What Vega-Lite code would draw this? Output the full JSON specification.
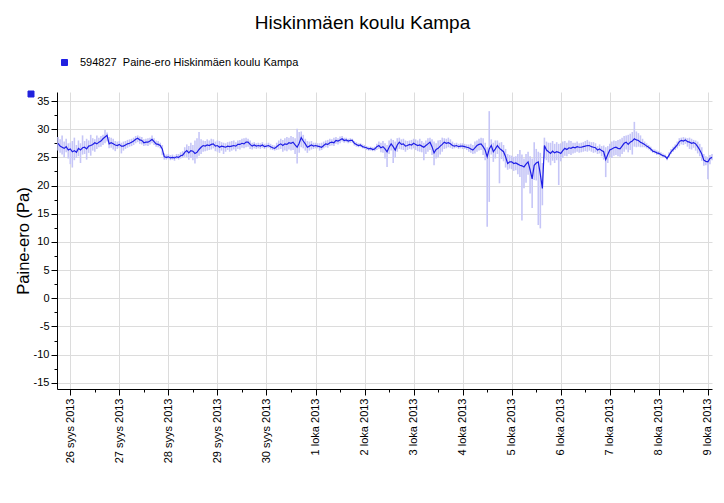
{
"$schema": "https://vega.github.io/schema/vega-lite/v6.json",
"width": 655, "height": 297,
"autosize": {"type": "none"},
"padding": {"left": 57, "top": 92, "right": 12, "bottom": 114},
"background": "white",
"title": {"text": "Hiskinmäen koulu Kampa", "fontSize": 19, "font": "Liberation Sans", "fontWeight": "normal", "anchor": "middle", "frame": "group", "dx": -22, "offset": 24, "color": "black"},
"config": {"font": "Liberation Sans", "view": {"stroke": null}, "axis": {"domainColor": "black", "tickColor": "black", "labelColor": "black", "gridColor": "#dcdcdc", "labelFontSize": 11, "labelFont": "Liberation Sans", "labelOverlap": false}},
"data": {"values": [
{"t":"2013-09-25T18:00Z","v":27.5,"lo":26.2,"hi":28.6},
{"t":"2013-09-25T19:00Z","v":27.0,"lo":25.8,"hi":28.2},
{"t":"2013-09-25T20:00Z","v":26.8,"lo":25.5,"hi":28.9},
{"t":"2013-09-25T21:00Z","v":26.6,"lo":25.0,"hi":27.8},
{"t":"2013-09-25T22:00Z","v":26.9,"lo":25.9,"hi":28.3},
{"t":"2013-09-25T23:00Z","v":26.3,"lo":24.8,"hi":27.5},
{"t":"2013-09-26T00:00Z","v":26.5,"lo":23.8,"hi":27.6},
{"t":"2013-09-26T01:00Z","v":26.0,"lo":23.2,"hi":27.9},
{"t":"2013-09-26T02:00Z","v":26.2,"lo":24.5,"hi":28.5},
{"t":"2013-09-26T03:00Z","v":25.9,"lo":24.9,"hi":27.2},
{"t":"2013-09-26T04:00Z","v":26.6,"lo":25.2,"hi":28.0},
{"t":"2013-09-26T05:00Z","v":26.3,"lo":24.0,"hi":27.5},
{"t":"2013-09-26T06:00Z","v":26.7,"lo":25.5,"hi":28.9},
{"t":"2013-09-26T07:00Z","v":26.8,"lo":25.6,"hi":27.9},
{"t":"2013-09-26T08:00Z","v":26.5,"lo":24.6,"hi":28.3},
{"t":"2013-09-26T09:00Z","v":27.0,"lo":25.8,"hi":28.0},
{"t":"2013-09-26T10:00Z","v":27.1,"lo":25.3,"hi":29.0},
{"t":"2013-09-26T11:00Z","v":27.3,"lo":26.2,"hi":28.4},
{"t":"2013-09-26T12:00Z","v":27.6,"lo":26.0,"hi":28.2},
{"t":"2013-09-26T13:00Z","v":27.4,"lo":26.5,"hi":28.9},
{"t":"2013-09-26T14:00Z","v":27.7,"lo":26.8,"hi":28.5},
{"t":"2013-09-26T15:00Z","v":27.9,"lo":26.9,"hi":28.8},
{"t":"2013-09-26T16:00Z","v":28.3,"lo":27.2,"hi":29.0},
{"t":"2013-09-26T17:00Z","v":28.6,"lo":27.5,"hi":29.9},
{"t":"2013-09-26T18:00Z","v":28.9,"lo":27.8,"hi":29.4},
{"t":"2013-09-26T19:00Z","v":27.4,"lo":26.6,"hi":28.6},
{"t":"2013-09-26T20:00Z","v":27.6,"lo":26.7,"hi":28.5},
{"t":"2013-09-26T21:00Z","v":27.4,"lo":26.4,"hi":28.3},
{"t":"2013-09-26T22:00Z","v":27.2,"lo":26.1,"hi":27.9},
{"t":"2013-09-26T23:00Z","v":27.1,"lo":26.5,"hi":27.8},
{"t":"2013-09-27T00:00Z","v":27.3,"lo":26.7,"hi":27.9},
{"t":"2013-09-27T01:00Z","v":27.0,"lo":25.7,"hi":27.6},
{"t":"2013-09-27T02:00Z","v":27.0,"lo":26.2,"hi":27.8},
{"t":"2013-09-27T03:00Z","v":27.2,"lo":26.5,"hi":27.9},
{"t":"2013-09-27T04:00Z","v":27.4,"lo":26.7,"hi":28.1},
{"t":"2013-09-27T05:00Z","v":27.5,"lo":26.9,"hi":28.2},
{"t":"2013-09-27T06:00Z","v":27.7,"lo":27.0,"hi":28.3},
{"t":"2013-09-27T07:00Z","v":27.9,"lo":27.2,"hi":28.5},
{"t":"2013-09-27T08:00Z","v":28.2,"lo":27.5,"hi":28.8},
{"t":"2013-09-27T09:00Z","v":28.4,"lo":27.7,"hi":28.9},
{"t":"2013-09-27T10:00Z","v":28.1,"lo":27.4,"hi":28.7},
{"t":"2013-09-27T11:00Z","v":28.0,"lo":27.3,"hi":28.6},
{"t":"2013-09-27T12:00Z","v":27.6,"lo":27.0,"hi":28.2},
{"t":"2013-09-27T13:00Z","v":27.7,"lo":27.1,"hi":28.3},
{"t":"2013-09-27T14:00Z","v":27.7,"lo":27.0,"hi":28.4},
{"t":"2013-09-27T15:00Z","v":27.9,"lo":27.3,"hi":28.5},
{"t":"2013-09-27T16:00Z","v":28.2,"lo":27.5,"hi":28.9},
{"t":"2013-09-27T17:00Z","v":27.8,"lo":27.2,"hi":28.4},
{"t":"2013-09-27T18:00Z","v":27.4,"lo":26.9,"hi":28.0},
{"t":"2013-09-27T19:00Z","v":27.3,"lo":26.8,"hi":27.9},
{"t":"2013-09-27T20:00Z","v":27.1,"lo":26.6,"hi":27.6},
{"t":"2013-09-27T21:00Z","v":26.5,"lo":25.4,"hi":27.2},
{"t":"2013-09-27T22:00Z","v":25.1,"lo":24.6,"hi":25.7},
{"t":"2013-09-27T23:00Z","v":25.0,"lo":24.6,"hi":25.5},
{"t":"2013-09-28T00:00Z","v":25.1,"lo":24.7,"hi":25.6},
{"t":"2013-09-28T01:00Z","v":24.9,"lo":24.5,"hi":25.4},
{"t":"2013-09-28T02:00Z","v":25.0,"lo":24.6,"hi":25.5},
{"t":"2013-09-28T03:00Z","v":24.9,"lo":24.4,"hi":25.3},
{"t":"2013-09-28T04:00Z","v":25.1,"lo":24.7,"hi":25.6},
{"t":"2013-09-28T05:00Z","v":25.0,"lo":24.6,"hi":25.6},
{"t":"2013-09-28T06:00Z","v":25.3,"lo":24.8,"hi":25.9},
{"t":"2013-09-28T07:00Z","v":25.4,"lo":24.9,"hi":26.1},
{"t":"2013-09-28T08:00Z","v":25.9,"lo":25.1,"hi":26.8},
{"t":"2013-09-28T09:00Z","v":26.2,"lo":25.0,"hi":27.3},
{"t":"2013-09-28T10:00Z","v":25.8,"lo":24.6,"hi":27.0},
{"t":"2013-09-28T11:00Z","v":26.2,"lo":24.9,"hi":27.6},
{"t":"2013-09-28T12:00Z","v":26.1,"lo":24.5,"hi":27.2},
{"t":"2013-09-28T13:00Z","v":25.7,"lo":23.9,"hi":28.0},
{"t":"2013-09-28T14:00Z","v":25.9,"lo":24.8,"hi":28.4},
{"t":"2013-09-28T15:00Z","v":26.4,"lo":25.3,"hi":29.5},
{"t":"2013-09-28T16:00Z","v":26.8,"lo":25.6,"hi":28.2},
{"t":"2013-09-28T17:00Z","v":27.1,"lo":26.0,"hi":28.0},
{"t":"2013-09-28T18:00Z","v":27.0,"lo":26.1,"hi":27.9},
{"t":"2013-09-28T19:00Z","v":27.2,"lo":26.2,"hi":28.2},
{"t":"2013-09-28T20:00Z","v":27.1,"lo":26.3,"hi":28.0},
{"t":"2013-09-28T21:00Z","v":27.3,"lo":26.4,"hi":28.3},
{"t":"2013-09-28T22:00Z","v":27.4,"lo":26.6,"hi":28.2},
{"t":"2013-09-28T23:00Z","v":27.0,"lo":26.1,"hi":27.8},
{"t":"2013-09-29T00:00Z","v":27.1,"lo":26.0,"hi":28.0},
{"t":"2013-09-29T01:00Z","v":26.8,"lo":25.8,"hi":27.9},
{"t":"2013-09-29T02:00Z","v":27.0,"lo":26.2,"hi":27.7},
{"t":"2013-09-29T03:00Z","v":26.9,"lo":25.6,"hi":27.6},
{"t":"2013-09-29T04:00Z","v":26.8,"lo":26.0,"hi":27.5},
{"t":"2013-09-29T05:00Z","v":27.0,"lo":26.3,"hi":27.7},
{"t":"2013-09-29T06:00Z","v":26.9,"lo":26.0,"hi":27.8},
{"t":"2013-09-29T07:00Z","v":27.0,"lo":26.2,"hi":27.9},
{"t":"2013-09-29T08:00Z","v":27.1,"lo":26.4,"hi":28.0},
{"t":"2013-09-29T09:00Z","v":27.0,"lo":26.1,"hi":27.7},
{"t":"2013-09-29T10:00Z","v":27.3,"lo":26.5,"hi":28.0},
{"t":"2013-09-29T11:00Z","v":27.3,"lo":26.4,"hi":28.1},
{"t":"2013-09-29T12:00Z","v":27.5,"lo":26.7,"hi":28.3},
{"t":"2013-09-29T13:00Z","v":27.4,"lo":26.6,"hi":28.4},
{"t":"2013-09-29T14:00Z","v":27.7,"lo":26.8,"hi":28.5},
{"t":"2013-09-29T15:00Z","v":27.7,"lo":26.9,"hi":28.3},
{"t":"2013-09-29T16:00Z","v":27.3,"lo":26.5,"hi":28.0},
{"t":"2013-09-29T17:00Z","v":27.0,"lo":26.4,"hi":27.6},
{"t":"2013-09-29T18:00Z","v":27.2,"lo":26.6,"hi":27.7},
{"t":"2013-09-29T19:00Z","v":27.0,"lo":26.5,"hi":27.5},
{"t":"2013-09-29T20:00Z","v":27.1,"lo":26.6,"hi":27.6},
{"t":"2013-09-29T21:00Z","v":27.0,"lo":26.5,"hi":27.5},
{"t":"2013-09-29T22:00Z","v":27.2,"lo":26.7,"hi":27.7},
{"t":"2013-09-29T23:00Z","v":26.9,"lo":26.5,"hi":27.4},
{"t":"2013-09-30T00:00Z","v":27.0,"lo":26.6,"hi":27.5},
{"t":"2013-09-30T01:00Z","v":27.1,"lo":26.7,"hi":27.6},
{"t":"2013-09-30T02:00Z","v":26.9,"lo":26.4,"hi":27.4},
{"t":"2013-09-30T03:00Z","v":26.7,"lo":26.3,"hi":27.2},
{"t":"2013-09-30T04:00Z","v":26.6,"lo":26.2,"hi":27.1},
{"t":"2013-09-30T05:00Z","v":26.9,"lo":26.3,"hi":27.6},
{"t":"2013-09-30T06:00Z","v":27.2,"lo":26.4,"hi":28.0},
{"t":"2013-09-30T07:00Z","v":27.4,"lo":26.5,"hi":28.3},
{"t":"2013-09-30T08:00Z","v":27.1,"lo":26.0,"hi":28.1},
{"t":"2013-09-30T09:00Z","v":27.4,"lo":26.2,"hi":28.4},
{"t":"2013-09-30T10:00Z","v":27.3,"lo":26.1,"hi":28.6},
{"t":"2013-09-30T11:00Z","v":27.6,"lo":26.4,"hi":28.5},
{"t":"2013-09-30T12:00Z","v":27.5,"lo":26.2,"hi":28.8},
{"t":"2013-09-30T13:00Z","v":27.7,"lo":26.3,"hi":28.6},
{"t":"2013-09-30T14:00Z","v":27.2,"lo":25.6,"hi":28.4},
{"t":"2013-09-30T15:00Z","v":26.8,"lo":23.9,"hi":30.1},
{"t":"2013-09-30T16:00Z","v":27.5,"lo":25.8,"hi":29.5},
{"t":"2013-09-30T17:00Z","v":28.5,"lo":26.8,"hi":29.6},
{"t":"2013-09-30T18:00Z","v":27.9,"lo":26.6,"hi":29.0},
{"t":"2013-09-30T19:00Z","v":27.4,"lo":26.2,"hi":28.3},
{"t":"2013-09-30T20:00Z","v":26.8,"lo":25.8,"hi":27.9},
{"t":"2013-09-30T21:00Z","v":27.0,"lo":26.2,"hi":27.8},
{"t":"2013-09-30T22:00Z","v":27.2,"lo":26.4,"hi":27.9},
{"t":"2013-09-30T23:00Z","v":27.0,"lo":26.5,"hi":27.6},
{"t":"2013-10-01T00:00Z","v":27.1,"lo":26.6,"hi":27.6},
{"t":"2013-10-01T01:00Z","v":27.0,"lo":26.6,"hi":27.5},
{"t":"2013-10-01T02:00Z","v":26.9,"lo":26.2,"hi":27.5},
{"t":"2013-10-01T03:00Z","v":26.8,"lo":26.3,"hi":27.6},
{"t":"2013-10-01T04:00Z","v":27.1,"lo":26.6,"hi":27.8},
{"t":"2013-10-01T05:00Z","v":27.4,"lo":26.8,"hi":28.0},
{"t":"2013-10-01T06:00Z","v":27.3,"lo":26.7,"hi":28.1},
{"t":"2013-10-01T07:00Z","v":27.6,"lo":27.0,"hi":28.3},
{"t":"2013-10-01T08:00Z","v":27.7,"lo":27.1,"hi":28.2},
{"t":"2013-10-01T09:00Z","v":27.6,"lo":27.0,"hi":28.5},
{"t":"2013-10-01T10:00Z","v":28.0,"lo":27.4,"hi":28.6},
{"t":"2013-10-01T11:00Z","v":27.9,"lo":27.3,"hi":28.4},
{"t":"2013-10-01T12:00Z","v":28.1,"lo":27.5,"hi":28.7},
{"t":"2013-10-01T13:00Z","v":28.3,"lo":27.8,"hi":28.8},
{"t":"2013-10-01T14:00Z","v":28.0,"lo":27.6,"hi":28.5},
{"t":"2013-10-01T15:00Z","v":28.1,"lo":27.7,"hi":28.5},
{"t":"2013-10-01T16:00Z","v":27.9,"lo":27.5,"hi":28.3},
{"t":"2013-10-01T17:00Z","v":28.0,"lo":27.6,"hi":28.4},
{"t":"2013-10-01T18:00Z","v":28.0,"lo":27.6,"hi":28.3},
{"t":"2013-10-01T19:00Z","v":27.5,"lo":27.1,"hi":27.9},
{"t":"2013-10-01T20:00Z","v":27.3,"lo":26.9,"hi":27.7},
{"t":"2013-10-01T21:00Z","v":27.1,"lo":26.8,"hi":27.5},
{"t":"2013-10-01T22:00Z","v":27.2,"lo":26.8,"hi":27.5},
{"t":"2013-10-01T23:00Z","v":26.9,"lo":26.6,"hi":27.3},
{"t":"2013-10-02T00:00Z","v":26.8,"lo":26.5,"hi":27.2},
{"t":"2013-10-02T01:00Z","v":26.7,"lo":26.3,"hi":27.0},
{"t":"2013-10-02T02:00Z","v":26.5,"lo":26.2,"hi":26.9},
{"t":"2013-10-02T03:00Z","v":26.6,"lo":26.2,"hi":26.9},
{"t":"2013-10-02T04:00Z","v":26.4,"lo":26.1,"hi":26.8},
{"t":"2013-10-02T05:00Z","v":26.5,"lo":26.1,"hi":26.9},
{"t":"2013-10-02T06:00Z","v":26.9,"lo":26.3,"hi":27.4},
{"t":"2013-10-02T07:00Z","v":27.1,"lo":26.5,"hi":27.8},
{"t":"2013-10-02T08:00Z","v":26.7,"lo":25.9,"hi":27.6},
{"t":"2013-10-02T09:00Z","v":26.9,"lo":25.8,"hi":27.9},
{"t":"2013-10-02T10:00Z","v":26.5,"lo":24.8,"hi":27.5},
{"t":"2013-10-02T11:00Z","v":26.0,"lo":23.3,"hi":27.2},
{"t":"2013-10-02T12:00Z","v":26.8,"lo":25.6,"hi":28.0},
{"t":"2013-10-02T13:00Z","v":27.4,"lo":26.2,"hi":28.3},
{"t":"2013-10-02T14:00Z","v":26.9,"lo":24.0,"hi":28.1},
{"t":"2013-10-02T15:00Z","v":26.3,"lo":25.0,"hi":27.8},
{"t":"2013-10-02T16:00Z","v":27.2,"lo":26.0,"hi":28.4},
{"t":"2013-10-02T17:00Z","v":27.7,"lo":26.5,"hi":28.5},
{"t":"2013-10-02T18:00Z","v":27.3,"lo":26.4,"hi":28.2},
{"t":"2013-10-02T19:00Z","v":27.4,"lo":26.3,"hi":28.3},
{"t":"2013-10-02T20:00Z","v":27.0,"lo":26.0,"hi":28.0},
{"t":"2013-10-02T21:00Z","v":27.1,"lo":26.3,"hi":27.9},
{"t":"2013-10-02T22:00Z","v":27.3,"lo":26.5,"hi":28.0},
{"t":"2013-10-02T23:00Z","v":27.2,"lo":26.4,"hi":28.1},
{"t":"2013-10-03T00:00Z","v":27.5,"lo":26.6,"hi":28.3},
{"t":"2013-10-03T01:00Z","v":27.3,"lo":26.3,"hi":28.2},
{"t":"2013-10-03T02:00Z","v":27.1,"lo":26.1,"hi":28.0},
{"t":"2013-10-03T03:00Z","v":27.2,"lo":26.0,"hi":28.3},
{"t":"2013-10-03T04:00Z","v":27.0,"lo":25.9,"hi":27.9},
{"t":"2013-10-03T05:00Z","v":26.8,"lo":24.5,"hi":27.6},
{"t":"2013-10-03T06:00Z","v":27.1,"lo":25.6,"hi":28.0},
{"t":"2013-10-03T07:00Z","v":27.4,"lo":26.0,"hi":28.4},
{"t":"2013-10-03T08:00Z","v":27.7,"lo":26.3,"hi":28.5},
{"t":"2013-10-03T09:00Z","v":26.9,"lo":25.4,"hi":28.2},
{"t":"2013-10-03T10:00Z","v":25.8,"lo":23.6,"hi":27.8},
{"t":"2013-10-03T11:00Z","v":26.4,"lo":24.8,"hi":27.5},
{"t":"2013-10-03T12:00Z","v":26.6,"lo":25.0,"hi":28.0},
{"t":"2013-10-03T13:00Z","v":27.0,"lo":25.5,"hi":28.1},
{"t":"2013-10-03T14:00Z","v":27.3,"lo":26.0,"hi":28.5},
{"t":"2013-10-03T15:00Z","v":27.7,"lo":26.5,"hi":28.4},
{"t":"2013-10-03T16:00Z","v":27.5,"lo":26.6,"hi":28.3},
{"t":"2013-10-03T17:00Z","v":27.6,"lo":26.8,"hi":28.5},
{"t":"2013-10-03T18:00Z","v":27.4,"lo":26.7,"hi":28.2},
{"t":"2013-10-03T19:00Z","v":27.1,"lo":26.5,"hi":27.8},
{"t":"2013-10-03T20:00Z","v":27.0,"lo":26.6,"hi":27.5},
{"t":"2013-10-03T21:00Z","v":27.1,"lo":26.7,"hi":27.6},
{"t":"2013-10-03T22:00Z","v":26.9,"lo":26.5,"hi":27.4},
{"t":"2013-10-03T23:00Z","v":27.0,"lo":26.6,"hi":27.5},
{"t":"2013-10-04T00:00Z","v":27.0,"lo":26.5,"hi":27.5},
{"t":"2013-10-04T01:00Z","v":26.9,"lo":26.5,"hi":27.4},
{"t":"2013-10-04T02:00Z","v":26.8,"lo":26.3,"hi":27.3},
{"t":"2013-10-04T03:00Z","v":26.7,"lo":26.0,"hi":27.3},
{"t":"2013-10-04T04:00Z","v":26.5,"lo":25.8,"hi":27.4},
{"t":"2013-10-04T05:00Z","v":26.3,"lo":25.6,"hi":27.2},
{"t":"2013-10-04T06:00Z","v":26.7,"lo":25.7,"hi":27.8},
{"t":"2013-10-04T07:00Z","v":27.1,"lo":26.0,"hi":28.0},
{"t":"2013-10-04T08:00Z","v":27.3,"lo":26.2,"hi":28.3},
{"t":"2013-10-04T09:00Z","v":27.4,"lo":26.3,"hi":28.5},
{"t":"2013-10-04T10:00Z","v":26.9,"lo":25.4,"hi":28.4},
{"t":"2013-10-04T11:00Z","v":26.3,"lo":24.5,"hi":27.6},
{"t":"2013-10-04T12:00Z","v":25.1,"lo":12.7,"hi":26.8},
{"t":"2013-10-04T13:00Z","v":26.5,"lo":17.1,"hi":33.2},
{"t":"2013-10-04T14:00Z","v":27.1,"lo":25.5,"hi":28.2},
{"t":"2013-10-04T15:00Z","v":26.0,"lo":24.2,"hi":27.6},
{"t":"2013-10-04T16:00Z","v":26.5,"lo":24.8,"hi":28.0},
{"t":"2013-10-04T17:00Z","v":27.1,"lo":25.6,"hi":28.0},
{"t":"2013-10-04T18:00Z","v":26.6,"lo":20.4,"hi":27.6},
{"t":"2013-10-04T19:00Z","v":26.3,"lo":24.7,"hi":27.7},
{"t":"2013-10-04T20:00Z","v":26.0,"lo":24.3,"hi":27.2},
{"t":"2013-10-04T21:00Z","v":25.1,"lo":23.2,"hi":26.5},
{"t":"2013-10-04T22:00Z","v":23.9,"lo":22.8,"hi":25.6},
{"t":"2013-10-04T23:00Z","v":24.2,"lo":23.0,"hi":25.4},
{"t":"2013-10-05T00:00Z","v":24.2,"lo":22.9,"hi":25.3},
{"t":"2013-10-05T01:00Z","v":23.9,"lo":22.6,"hi":25.1},
{"t":"2013-10-05T02:00Z","v":24.0,"lo":22.7,"hi":25.2},
{"t":"2013-10-05T03:00Z","v":23.8,"lo":22.0,"hi":25.6},
{"t":"2013-10-05T04:00Z","v":23.6,"lo":21.5,"hi":26.3},
{"t":"2013-10-05T05:00Z","v":23.5,"lo":13.8,"hi":25.5},
{"t":"2013-10-05T06:00Z","v":23.3,"lo":19.5,"hi":24.8},
{"t":"2013-10-05T07:00Z","v":23.8,"lo":20.5,"hi":25.6},
{"t":"2013-10-05T08:00Z","v":24.2,"lo":21.9,"hi":26.0},
{"t":"2013-10-05T09:00Z","v":22.8,"lo":18.6,"hi":25.2},
{"t":"2013-10-05T10:00Z","v":21.2,"lo":16.0,"hi":24.8},
{"t":"2013-10-05T11:00Z","v":23.6,"lo":21.0,"hi":27.7},
{"t":"2013-10-05T12:00Z","v":24.0,"lo":20.9,"hi":26.5},
{"t":"2013-10-05T13:00Z","v":24.2,"lo":13.0,"hi":26.0},
{"t":"2013-10-05T14:00Z","v":22.0,"lo":12.4,"hi":25.8},
{"t":"2013-10-05T15:00Z","v":19.5,"lo":16.5,"hi":24.0},
{"t":"2013-10-05T16:00Z","v":27.1,"lo":24.8,"hi":28.5},
{"t":"2013-10-05T17:00Z","v":26.3,"lo":24.5,"hi":27.8},
{"t":"2013-10-05T18:00Z","v":26.0,"lo":24.1,"hi":27.6},
{"t":"2013-10-05T19:00Z","v":25.7,"lo":23.6,"hi":27.6},
{"t":"2013-10-05T20:00Z","v":26.1,"lo":24.4,"hi":27.9},
{"t":"2013-10-05T21:00Z","v":25.8,"lo":24.0,"hi":27.4},
{"t":"2013-10-05T22:00Z","v":26.0,"lo":24.5,"hi":27.7},
{"t":"2013-10-05T23:00Z","v":25.9,"lo":20.1,"hi":27.4},
{"t":"2013-10-06T00:00Z","v":25.7,"lo":24.3,"hi":27.5},
{"t":"2013-10-06T01:00Z","v":26.2,"lo":24.9,"hi":27.8},
{"t":"2013-10-06T02:00Z","v":26.6,"lo":25.3,"hi":27.9},
{"t":"2013-10-06T03:00Z","v":26.4,"lo":25.2,"hi":27.6},
{"t":"2013-10-06T04:00Z","v":26.7,"lo":25.6,"hi":28.0},
{"t":"2013-10-06T05:00Z","v":26.6,"lo":25.4,"hi":27.9},
{"t":"2013-10-06T06:00Z","v":26.8,"lo":25.7,"hi":27.6},
{"t":"2013-10-06T07:00Z","v":26.7,"lo":25.8,"hi":27.6},
{"t":"2013-10-06T08:00Z","v":26.9,"lo":26.0,"hi":27.8},
{"t":"2013-10-06T09:00Z","v":26.8,"lo":25.8,"hi":27.5},
{"t":"2013-10-06T10:00Z","v":26.8,"lo":25.9,"hi":27.6},
{"t":"2013-10-06T11:00Z","v":26.9,"lo":26.0,"hi":27.7},
{"t":"2013-10-06T12:00Z","v":27.0,"lo":26.1,"hi":27.9},
{"t":"2013-10-06T13:00Z","v":27.1,"lo":26.0,"hi":28.1},
{"t":"2013-10-06T14:00Z","v":27.1,"lo":26.2,"hi":27.8},
{"t":"2013-10-06T15:00Z","v":26.9,"lo":26.0,"hi":27.7},
{"t":"2013-10-06T16:00Z","v":26.8,"lo":25.8,"hi":27.7},
{"t":"2013-10-06T17:00Z","v":26.7,"lo":25.9,"hi":27.5},
{"t":"2013-10-06T18:00Z","v":26.3,"lo":25.6,"hi":27.0},
{"t":"2013-10-06T19:00Z","v":26.5,"lo":25.7,"hi":27.3},
{"t":"2013-10-06T20:00Z","v":26.2,"lo":25.2,"hi":27.0},
{"t":"2013-10-06T21:00Z","v":26.0,"lo":24.6,"hi":27.1},
{"t":"2013-10-06T22:00Z","v":24.6,"lo":21.5,"hi":26.8},
{"t":"2013-10-06T23:00Z","v":25.5,"lo":24.0,"hi":27.0},
{"t":"2013-10-07T00:00Z","v":26.3,"lo":25.0,"hi":27.4},
{"t":"2013-10-07T01:00Z","v":26.5,"lo":24.9,"hi":27.8},
{"t":"2013-10-07T02:00Z","v":26.7,"lo":25.3,"hi":28.0},
{"t":"2013-10-07T03:00Z","v":26.8,"lo":25.4,"hi":27.9},
{"t":"2013-10-07T04:00Z","v":26.6,"lo":25.2,"hi":28.1},
{"t":"2013-10-07T05:00Z","v":26.5,"lo":25.1,"hi":28.2},
{"t":"2013-10-07T06:00Z","v":27.0,"lo":25.6,"hi":28.5},
{"t":"2013-10-07T07:00Z","v":27.5,"lo":26.0,"hi":28.8},
{"t":"2013-10-07T08:00Z","v":27.7,"lo":26.4,"hi":28.9},
{"t":"2013-10-07T09:00Z","v":27.3,"lo":25.9,"hi":29.0},
{"t":"2013-10-07T10:00Z","v":27.7,"lo":26.3,"hi":29.2},
{"t":"2013-10-07T11:00Z","v":27.9,"lo":25.5,"hi":29.5},
{"t":"2013-10-07T12:00Z","v":28.3,"lo":26.9,"hi":31.3},
{"t":"2013-10-07T13:00Z","v":28.1,"lo":26.8,"hi":29.6},
{"t":"2013-10-07T14:00Z","v":28.0,"lo":26.9,"hi":29.3},
{"t":"2013-10-07T15:00Z","v":27.7,"lo":26.8,"hi":28.9},
{"t":"2013-10-07T16:00Z","v":27.5,"lo":26.8,"hi":28.3},
{"t":"2013-10-07T17:00Z","v":27.3,"lo":26.8,"hi":27.8},
{"t":"2013-10-07T18:00Z","v":27.0,"lo":26.6,"hi":27.5},
{"t":"2013-10-07T19:00Z","v":26.8,"lo":26.4,"hi":27.2},
{"t":"2013-10-07T20:00Z","v":26.5,"lo":26.1,"hi":26.9},
{"t":"2013-10-07T21:00Z","v":26.1,"lo":25.8,"hi":26.5},
{"t":"2013-10-07T22:00Z","v":26.0,"lo":25.7,"hi":26.4},
{"t":"2013-10-07T23:00Z","v":25.8,"lo":25.4,"hi":26.2},
{"t":"2013-10-08T00:00Z","v":25.7,"lo":25.4,"hi":26.1},
{"t":"2013-10-08T01:00Z","v":25.5,"lo":25.2,"hi":25.9},
{"t":"2013-10-08T02:00Z","v":25.3,"lo":25.0,"hi":25.7},
{"t":"2013-10-08T03:00Z","v":25.2,"lo":24.9,"hi":25.5},
{"t":"2013-10-08T04:00Z","v":24.8,"lo":24.5,"hi":25.2},
{"t":"2013-10-08T05:00Z","v":25.4,"lo":25.0,"hi":25.9},
{"t":"2013-10-08T06:00Z","v":26.0,"lo":25.6,"hi":26.5},
{"t":"2013-10-08T07:00Z","v":26.4,"lo":26.0,"hi":26.9},
{"t":"2013-10-08T08:00Z","v":26.8,"lo":26.3,"hi":27.3},
{"t":"2013-10-08T09:00Z","v":27.2,"lo":26.6,"hi":27.8},
{"t":"2013-10-08T10:00Z","v":27.8,"lo":27.0,"hi":28.4},
{"t":"2013-10-08T11:00Z","v":28.0,"lo":27.3,"hi":28.5},
{"t":"2013-10-08T12:00Z","v":27.9,"lo":27.2,"hi":28.6},
{"t":"2013-10-08T13:00Z","v":28.1,"lo":27.4,"hi":28.5},
{"t":"2013-10-08T14:00Z","v":27.8,"lo":26.9,"hi":28.4},
{"t":"2013-10-08T15:00Z","v":27.7,"lo":26.5,"hi":28.5},
{"t":"2013-10-08T16:00Z","v":27.5,"lo":26.4,"hi":28.3},
{"t":"2013-10-08T17:00Z","v":27.6,"lo":26.7,"hi":28.1},
{"t":"2013-10-08T18:00Z","v":27.4,"lo":26.2,"hi":28.0},
{"t":"2013-10-08T19:00Z","v":26.9,"lo":25.7,"hi":27.8},
{"t":"2013-10-08T20:00Z","v":26.3,"lo":25.2,"hi":27.4},
{"t":"2013-10-08T21:00Z","v":25.6,"lo":24.4,"hi":26.8},
{"t":"2013-10-08T22:00Z","v":24.5,"lo":23.5,"hi":25.6},
{"t":"2013-10-08T23:00Z","v":24.3,"lo":23.6,"hi":25.2},
{"t":"2013-10-09T00:00Z","v":24.2,"lo":21.1,"hi":25.0},
{"t":"2013-10-09T01:00Z","v":24.8,"lo":23.8,"hi":25.4},
{"t":"2013-10-09T02:00Z","v":25.0,"lo":24.5,"hi":25.6}
]},
"encoding": {
 "x": {"field": "t", "type": "temporal",
  "scale": {"type": "utc", "domain": [{"year": 2013, "month": 9, "date": 25, "hours": 17, "minutes": 30, "utc": true}, {"year": 2013, "month": 10, "date": 9, "hours": 2, "utc": true}]},
  "axis": {"title": null, "grid": true,
   "values": [1380153600000,1380196800000,1380240000000,1380283200000,1380326400000,1380369600000,1380412800000,1380456000000,1380499200000,1380542400000,1380585600000,1380628800000,1380672000000,1380715200000,1380758400000,1380801600000,1380844800000,1380888000000,1380931200000,1380974400000,1381017600000,1381060800000,1381104000000,1381147200000,1381190400000,1381233600000,1381276800000],
   "labelExpr": "utchours(datum.value) == 0 ? utcdate(datum.value) + (utcmonth(datum.value) == 8 ? ' syys 2013' : ' loka 2013') : ''",
   "labelAngle": 270, "labelAlign": "right", "labelBaseline": "middle", "labelPadding": 3, "labelOverlap": false, "labelFlush": false,
   "tickSize": {"condition": {"test": "utchours(datum.value) == 0", "value": 6}, "value": 3},
   "gridOpacity": {"condition": {"test": "utchours(datum.value) == 0", "value": 1}, "value": 0}
  }
 }
},
"layer": [
 {"mark": {"type": "rule", "color": "#c6c6f7", "strokeWidth": 1.6},
  "encoding": {
   "y": {"field": "lo", "type": "quantitative",
    "scale": {"domain": [-16.1, 36.6], "nice": false, "zero": false},
    "axis": {"title": "Paine-ero (Pa)", "titleFont": "Liberation Sans", "titleFontSize": 16.5, "titleFontWeight": "normal", "titleColor": "black", "titlePadding": 2, "grid": true,
     "values": [-15,-12.5,-10,-7.5,-5,-2.5,0,2.5,5,7.5,10,12.5,15,17.5,20,22.5,25,27.5,30,32.5,35],
     "labelExpr": "datum.value % 5 == 0 ? '' + datum.value : ''",
     "labelPadding": 2, "labelOverlap": false,
     "tickSize": {"condition": {"test": "datum.value % 5 == 0", "value": 6}, "value": 3},
     "gridOpacity": {"condition": {"test": "datum.value % 5 == 0", "value": 1}, "value": 0}
    }},
   "y2": {"field": "hi"},
   "opacity": {"datum": "a", "scale": {"range": [1]},
    "legend": {"orient": "none", "legendX": -31, "legendY": -3, "title": null, "symbolType": "square", "symbolSize": 36, "symbolFillColor": "#2222dd", "symbolStrokeColor": "#2222dd", "symbolStrokeWidth": 1, "symbolOpacity": 1, "labelExpr": "''", "padding": 0}}
  }},
 {"mark": {"type": "line", "strokeWidth": 1.2},
  "encoding": {
   "y": {"field": "v", "type": "quantitative",
    "scale": {"domain": [-16.1, 36.6], "nice": false, "zero": false},
    "axis": {"title": "Paine-ero (Pa)", "titleFont": "Liberation Sans", "titleFontSize": 16.5, "titleFontWeight": "normal", "titleColor": "black", "titlePadding": 2, "grid": true,
     "values": [-15,-12.5,-10,-7.5,-5,-2.5,0,2.5,5,7.5,10,12.5,15,17.5,20,22.5,25,27.5,30,32.5,35],
     "labelExpr": "datum.value % 5 == 0 ? '' + datum.value : ''",
     "labelPadding": 2, "labelOverlap": false,
     "tickSize": {"condition": {"test": "datum.value % 5 == 0", "value": 6}, "value": 3},
     "gridOpacity": {"condition": {"test": "datum.value % 5 == 0", "value": 1}, "value": 0}
    }},
   "color": {"datum": "594827\u00a0 Paine-ero Hiskinmäen koulu Kampa", "scale": {"range": ["#1e1ee6"]},
    "legend": {"orient": "none", "legendX": 2, "legendY": -35, "title": null, "symbolType": "square", "symbolSize": 36, "symbolFillColor": "#2222dd", "symbolStrokeColor": "#2222dd", "symbolStrokeWidth": 1, "labelFont": "Liberation Sans", "labelFontSize": 11, "labelColor": "black", "labelOffset": 10, "labelLimit": 0, "padding": 0}}
  }}
]
}
